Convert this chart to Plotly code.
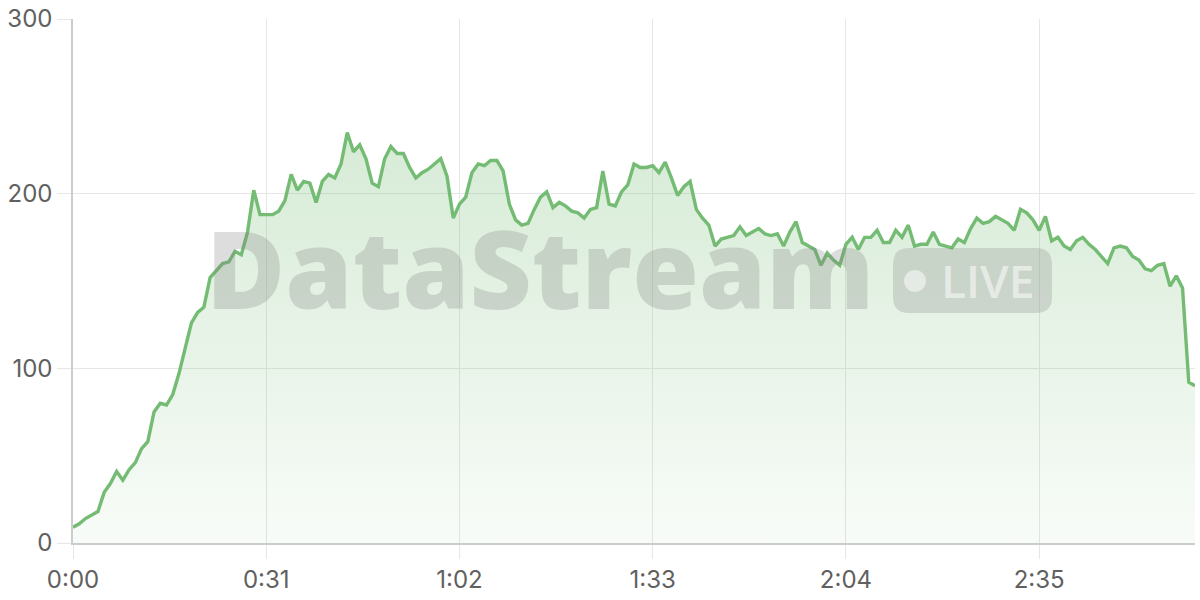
import plotly.graph_objects as go

# elapsed seconds and values
seconds = list(range(0, 181))
values = [
    9, 11, 14, 16, 18, 29, 34, 41, 36, 42,
    46, 54, 58, 75, 80, 79, 85, 97, 111, 126,
    132, 135, 152, 156, 160, 161, 167, 165, 178, 202,
    188, 188, 188, 190, 196, 211, 202, 207, 206, 195,
    207, 211, 209, 217, 235, 224, 228, 220, 206, 204,
    220, 227, 223, 223, 215, 209, 212, 214, 217, 220,
    210, 186, 194, 198, 212, 217, 216, 219, 219, 213,
    194, 185, 182, 183, 191, 198, 201, 192, 195, 193,
    190, 189, 186, 191, 192, 213, 194, 193, 201, 205,
    217, 215, 215, 216, 212, 218, 209, 199, 204, 207,
    191, 186, 182, 170, 174, 175, 176, 181, 176, 178,
    180, 177, 176, 177, 170, 178, 184, 172, 170, 168,
    159, 166, 162, 159, 171, 175, 168, 175, 175, 179,
    172, 172, 179, 175, 182, 170, 171, 171, 178, 171,
    170, 169, 174, 172, 180, 186, 183, 184, 187, 185,
    183, 179, 191, 189, 185, 179, 187, 173, 175, 170,
    168, 173, 175, 171, 168, 164, 160, 169, 170, 169,
    164, 162, 157, 156, 159, 160, 147, 153, 146, 92,
    90,
]
x_tickvals = [0, 31, 62, 93, 124, 155]
x_ticktext = ["0:00", "0:31", "1:02", "1:33", "2:04", "2:35"]
y_tickvals = [0, 100, 200, 300]

LINE = "rgb(116,187,116)"
GRID = "#e6e6e6"
FONT = "Inter"
TICKCOL = "#606060"

fig = go.Figure()
fig.add_trace(go.Scatter(
    x=seconds, y=values, mode="lines",
    line=dict(color=LINE, width=3.4),
    fill="tozeroy",
    fillgradient=dict(
        type="vertical",
        colorscale=[[0, "rgba(116,187,116,0.05)"], [1, "rgba(116,187,116,0.30)"]],
        start=0, stop=240,
    ),
    cliponaxis=False,
    hoverinfo="skip", showlegend=False,
))

# watermark geometry (plot-area fractions)
PW, PH = 1122.0, 524.0
def px(xp):
    return (xp - 73) / PW
def py(yp):
    return (543 - yp) / PH

x0, x1, y0, y1 = px(893), px(1052), py(313), py(248)
rx, ry = 16 / PW, 16 / PH
path = (f"M {x0+rx},{y0} L {x1-rx},{y0} Q {x1},{y0} {x1},{y0+ry} "
        f"L {x1},{y1-ry} Q {x1},{y1} {x1-rx},{y1} L {x0+rx},{y1} "
        f"Q {x0},{y1} {x0},{y1-ry} L {x0},{y0+ry} Q {x0},{y0} {x0+rx},{y0} Z")

fig.update_layout(
    width=1200, height=600,
    margin=dict(l=73, r=5, t=19, b=57, autoexpand=False),
    paper_bgcolor="white", plot_bgcolor="white",
    font=dict(family=FONT, color=TICKCOL, size=24),
    xaxis=dict(
        range=[0, 180], tickvals=x_tickvals, ticktext=x_ticktext,
        showgrid=True, gridcolor=GRID, gridwidth=1,
        ticks="outside", ticklen=14, tickcolor=GRID,
        showline=True, linecolor="#cccccc", linewidth=1.5,
        zeroline=False, automargin=False,
        tickfont=dict(size=24, color=TICKCOL),
    ),
    yaxis=dict(
        range=[0, 300], tickvals=y_tickvals,
        showgrid=True, gridcolor=GRID, gridwidth=1,
        ticks="outside", ticklen=14, tickcolor=GRID,
        showline=True, linecolor="#cccccc", linewidth=1.5,
        zeroline=False, automargin=False,
        tickfont=dict(size=24, color=TICKCOL),
    ),
    shapes=[
        dict(type="path", xref="paper", yref="paper", path=path,
             fillcolor="rgba(128,128,128,0.25)", line=dict(width=0)),
        dict(type="circle", xref="paper", yref="paper",
             x0=px(904), x1=px(926), y0=py(292), y1=py(270),
             fillcolor="rgba(255,255,255,0.5)", line=dict(width=0)),
    ],
    annotations=[
        dict(text="DataStream", xref="paper", yref="paper",
             x=px(540), y=py(267), xanchor="center", yanchor="middle",
             showarrow=False,
             font=dict(family="Open Sans", size=108, weight=800,
                       color="rgba(128,128,128,0.27)")),
        dict(text="LIVE", xref="paper", yref="paper",
             x=px(987), y=py(280), xanchor="center", yanchor="middle",
             showarrow=False,
             font=dict(family="Open Sans", size=46, weight=600,
                       color="rgba(255,255,255,0.55)")),
    ],
)

fig.write_html(
    "out.html",
    config={"displayModeBar": False},
    post_script="document.body.style.margin='0';document.body.style.overflow='hidden';",
)
